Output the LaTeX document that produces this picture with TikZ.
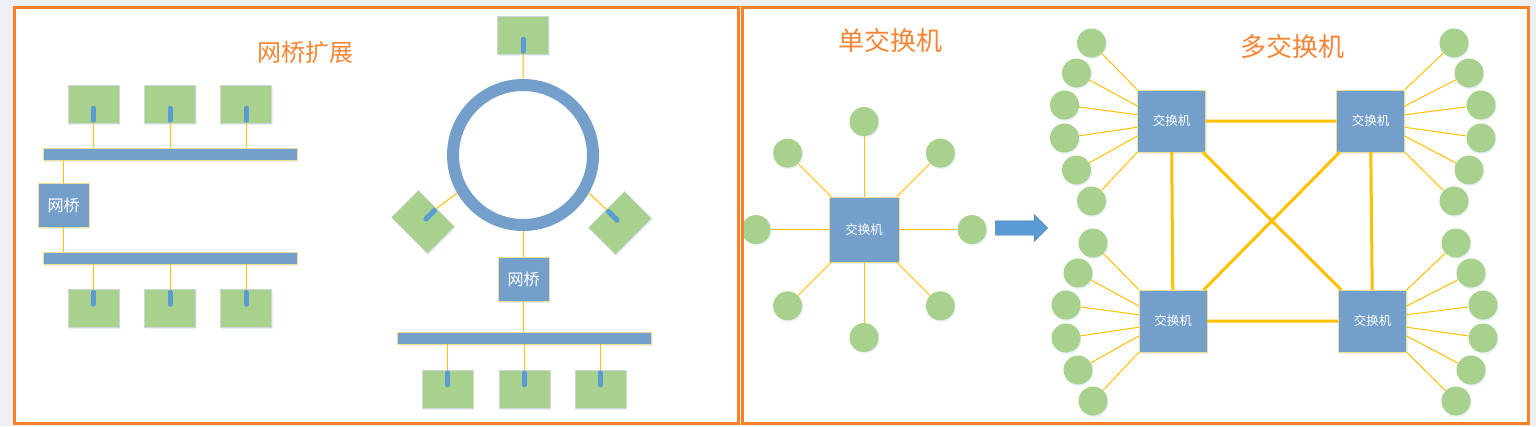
\documentclass[tikz,border=0pt]{standalone}
\usepackage{fontspec}
\newfontfamily\cjk{Noto Sans CJK SC}
\usetikzlibrary{calc,shapes.arrows,shadows}
\definecolor{pcgreen}{RGB}{169,209,142}
\definecolor{busblue}{RGB}{116,159,203}
\definecolor{pinblue}{RGB}{91,155,213}
\definecolor{wire}{RGB}{255,192,0}
\definecolor{frameorange}{RGB}{253,128,38}
\definecolor{titleorange}{RGB}{247,132,52}
\definecolor{pale}{RGB}{240,221,150}
\definecolor{pcedge}{RGB}{205,212,218}
\definecolor{backgray}{RGB}{238,240,243}
\definecolor{arrowedge}{RGB}{65,113,156}

\begin{document}
\begin{tikzpicture}[x=1pt,y=-1pt,
glow/.style={drop shadow={shadow xshift=1pt,shadow yshift=-1.5pt,fill=pinblue!40,opacity=.35}},
pc/.style={draw=pcedge,fill=pcgreen,minimum width=51pt,minimum height=38pt,inner sep=0pt,glow},
bus/.style={draw=pale,fill=busblue,minimum width=254pt,minimum height=12pt,inner sep=0pt,glow},
bridge/.style={draw=pale,fill=busblue,minimum width=51pt,minimum height=44pt,inner sep=0pt,text=white,font=\cjk\fontsize{16}{16}\selectfont,glow},
switch/.style={draw=pale,fill=busblue,minimum width=68pt,minimum height=62pt,inner sep=0pt,text=white,font=\cjk\fontsize{12.5}{12.5}\selectfont,glow},
host/.style={circle,fill=pcgreen,minimum size=29pt,inner sep=0pt,glow},
ring/.style={circle,draw=busblue,line width=12pt,minimum size=140pt,inner sep=0pt},
title/.style={text=titleorange,font=\cjk\fontsize{24}{24}\selectfont},
link/.style={draw=wire,line width=1pt},
trunk/.style={draw=wire,line width=3pt},
pin/.style={draw=pinblue,line width=5pt,line cap=round}]
\useasboundingbox[fill=backgray] (0,0) rectangle (1536,426);
\fill[white] (14,7) rectangle (738.5,423) (742,7) rectangle (1528.5,423);

\node[title] (tbr) at (305,52) {网桥扩展};
\foreach \x [count=\i] in {93.5,170,246} {
  \node[pc] (up\i) at (\x,104) {};
  \node[pc] (dn\i) at (\x,308.5) {};
}
\node[bus] (busa) at (170,154.5) {};
\node[bus] (busb) at (170,258) {};
\node[bridge] (br) at (63.5,205) {网桥};
\foreach \i in {1,2,3} {
  \draw[link] (up\i.south) -- (up\i.south |- busa.north);
  \draw[link] (dn\i.north) -- (dn\i.north |- busb.south);
}
\draw[link] (busa.south -| br) -- (br.north) (br.south) -- (br.south |- busb.north);

\node[ring] (ring) at (523,155) {};
\node[pc] (rt) at (523,35) {};
\node[pc,rotate=-45] (rl) at (423,222) {};
\node[pc,rotate=45] (rr) at (620,223) {};
\node[bridge] (rbr) at (523.5,279.5) {网桥};
\node[bus] (busc) at (524.5,338) {};
\foreach \x [count=\i] in {447.5,524.5,600.5} {
  \node[pc] (rd\i) at (\x,389) {};
  \draw[link] (rd\i.north) -- (rd\i.north |- busc.south);
}
\draw[link] (rt) -- (ring) (ring.south -| rbr) -- (rbr.north) (rbr.south) -- (rbr.south |- busc.north)
  (ring.210) -- (rl.north) (ring.330) -- (rr.north);
\foreach \n/\a in {up1/south,up2/south,up3/south,dn1/north,dn2/north,dn3/north,
  rt/south,rl/north,rr/north,rd1/north,rd2/north,rd3/north}
  \draw[pin] ($(\n.\a)!3pt!(\n.center)$) -- ($(\n.\a)!15pt!(\n.center)$);

\node[title,font=\cjk\fontsize{26}{26}\selectfont] (tsg) at (890,41) {单交换机};
\node[switch,minimum width=70pt,minimum height=65pt] (sw) at (864,229.5) {交换机};
\foreach \a in {0,45,...,315} {
  \node[host] (h\a) at ($(sw)+(\a:108)$) {};
  \draw[link] (h\a) -- (sw);
}
\node[single arrow,draw=arrowedge,fill=pinblue,minimum height=52pt,inner sep=7pt,
  single arrow head extend=6pt] (go) at (1018,228) {};

\node[title,font=\cjk\fontsize{26}{26}\selectfont] (tml) at (1292,47) {多交换机};
\node[switch] (s1) at (1171.5,121) {交换机};
\node[switch] (s2) at (1370.5,121) {交换机};
\node[switch] (s3) at (1173,321) {交换机};
\node[switch] (s4) at (1372.5,321) {交换机};
\draw[trunk] (s1) -- (s2) (s3) -- (s4) (s1) -- (s3) (s2) -- (s4) (s1) -- (s4) (s2) -- (s3);
\foreach \s/\side/\dir/\pad in {s1/west/-1/0,s3/west/-1/0,s2/east/1/3.5,s4/east/1/3.5}
  \foreach \dx/\dy/\f [count=\i] in {80/-78/0,95/-48/.26,107/-16/.4,107/17/.6,95/49/.74,80/80/1} {
    \node[host] (\s-\i) at ($(\s)+({\dir*(\dx+\pad)},\dy)$) {};
    \draw[link] (\s-\i) -- ($(\s.north \side)!\f!(\s.south \side)$);
  }

\draw[frameorange,line width=3pt] (14,7) rectangle (738.5,423) (742,7) rectangle (1528.5,423);
\end{tikzpicture}
\end{document}
